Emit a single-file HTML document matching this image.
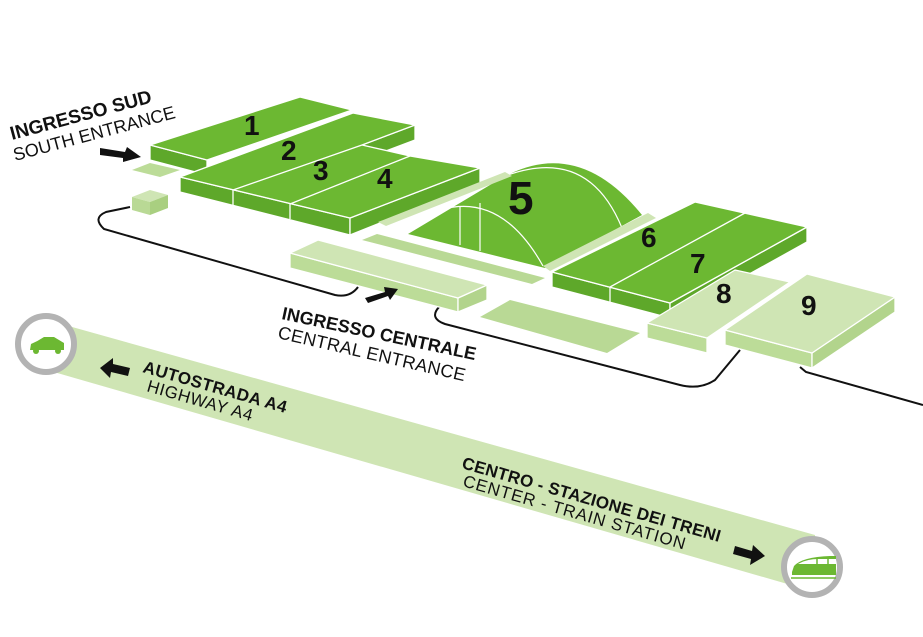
<!DOCTYPE html>
<html><head><meta charset="utf-8"><style>
html,body{margin:0;padding:0;background:#fff;}
svg{display:block;font-family:"Liberation Sans",sans-serif;}
.b{font-weight:bold;}
</style></head><body>
<svg width="923" height="637" viewBox="0 0 923 637" xmlns="http://www.w3.org/2000/svg">
<polygon points="40,318 815,535 815,592 40,368" fill="#cfe5b4"/>
<g fill="none" stroke="#111" stroke-width="2">
<path d="M130,207 L106,212 Q92,218 104,229 L335,295 Q350,298 358,287"/>
<path d="M440,306 Q428,318 445,324 L680,385 Q700,390 715,380 L740,350"/>
<path d="M800,367 L806,372 L923,405"/>
</g>
<polygon points="132,170 150,163 180,170 160,177" fill="#bcdc98"/>
<polygon points="132,197 150,190 168,195 150,202" fill="#cfe5b4"/>
<polygon points="132,197 150,202 150,215 132,210" fill="#b9d995"/>
<polygon points="150,202 168,195 168,208 150,215" fill="#a9cf80"/>
<g stroke="#fff" stroke-width="1.3" stroke-linejoin="round">
<polygon points="150,145 207,160 207,175 150,160" fill="#5ea82a"/>
<polygon points="150,145 300,97 352,110 207,160" fill="#6cb832"/>
<polygon points="415,125 415,140 362,160 362,145" fill="#5ea82a"/>
<polygon points="180,177 350,218 350,235 180,192" fill="#5ea82a"/>
<polygon points="350,218 480,168 480,183 350,235" fill="#5ea82a"/>
<polygon points="180,177 353,113 415,125 362,145 410,156 480,168 350,218" fill="#6cb832"/>
<line x1="233" y1="190" x2="362" y2="145"/>
<line x1="290" y1="204" x2="410" y2="156"/>
<line x1="233" y1="190" x2="233" y2="205"/>
<line x1="290" y1="204" x2="290" y2="219"/>
</g>
<path d="M408,234 L495,182 Q575,132 642,215 L545,268 Z" fill="#6cb832"/>
<g fill="none" stroke="#fff" stroke-width="1.2">
<path d="M420,218 Q495,180 543,266"/>
<path d="M505,176 Q588,145 622,228"/>
<line x1="460" y1="206" x2="460" y2="245"/>
<line x1="480" y1="203" x2="480" y2="251"/>
</g>
<polygon points="378,222 505,172 512,176 386,226" fill="#cfe5b4"/>
<polygon points="543,266 648,213 656,218 550,271" fill="#cfe5b4"/>
<polygon points="362,240 377,234 545,278 532,284" fill="#b9d995"/>
<g stroke="#fff" stroke-width="1.3" stroke-linejoin="round">
<polygon points="290,253 458,298 458,312 290,268" fill="#bcdc98"/>
<polygon points="458,298 487,285 487,300 458,312" fill="#b2d48c"/>
<polygon points="290,253 318,240 487,285 458,298" fill="#cfe5b4"/>
</g>
<polygon points="480,317 510,300 640,333 607,353" fill="#b9d995"/>
<g stroke="#fff" stroke-width="1.3" stroke-linejoin="round">
<polygon points="552,272 670,303 670,318 552,287" fill="#5ea82a"/>
<polygon points="670,303 807,227 807,242 670,318" fill="#5ea82a"/>
<polygon points="552,272 695,202 807,227 670,303" fill="#6cb832"/>
<line x1="610" y1="287" x2="745" y2="213"/>
<line x1="610" y1="287" x2="610" y2="302"/>
<polygon points="647,323 707,338 707,353 647,338" fill="#bcdc98"/>
<polygon points="647,323 735,270 790,282 707,338" fill="#cfe5b4"/>
<polygon points="725,330 812,353 812,368 725,345" fill="#bcdc98"/>
<polygon points="812,353 895,297 895,312 812,368" fill="#b2d48c"/>
<polygon points="725,330 807,274 895,297 812,353" fill="#cfe5b4"/>
</g>
<g class="b" fill="#111" font-size="28">
<text x="244" y="135">1</text>
<text x="281" y="160">2</text>
<text x="313" y="180">3</text>
<text x="377" y="188">4</text>
<text x="508" y="214" font-size="46">5</text>
<text x="641" y="247">6</text>
<text x="690" y="273">7</text>
<text x="716" y="303">8</text>
<text x="801" y="315">9</text>
</g>
<g fill="#111">
<polygon points="100,148 125,152 127,147 141,157 123,162 123,158 100,155"/>
<polygon points="365,298 385,292 384,287 398,289 390,300 388,296 368,303"/>
<polygon points="100,368 113,358 113,364 130,368 128,376 111,372 110,378"/>
<polygon points="735,546 752,551 753,545 765,556 750,565 751,559 733,554"/>
</g>
<g fill="#111">
<text class="b" font-size="19" transform="translate(12,140) rotate(-15)">INGRESSO SUD</text>
<text font-size="18" transform="translate(15,161) rotate(-15)">SOUTH ENTRANCE</text>
<text class="b" font-size="18" transform="translate(281,319) rotate(12)">INGRESSO CENTRALE</text>
<text font-size="18" letter-spacing="0.3" transform="translate(277,338) rotate(13)">CENTRAL ENTRANCE</text>
<text class="b" font-size="17" letter-spacing="0.4" transform="translate(142,372) rotate(16)">AUTOSTRADA A4</text>
<text font-size="17" letter-spacing="0.6" transform="translate(146,391) rotate(16)">HIGHWAY A4</text>
<text class="b" font-size="17" letter-spacing="0.3" transform="translate(461,468) rotate(16)">CENTRO - STAZIONE DEI TRENI</text>
<text font-size="17" letter-spacing="0.9" transform="translate(462,486) rotate(16)">CENTER - TRAIN STATION</text>
</g>
<circle cx="46" cy="344" r="28" fill="#fff" stroke="#b3b3b3" stroke-width="6"/>
<path d="M30,350 L31,344 Q38,341 44,337 L54,337 Q59,340 64,343 L64,350 Z" fill="#6cb832"/>
<circle cx="36" cy="351" r="3" fill="#6cb832"/><circle cx="58" cy="351" r="3" fill="#6cb832"/>
<circle cx="812" cy="567" r="28" fill="#fff" stroke="#b3b3b3" stroke-width="6"/>
<path d="M792,572 L794,566 Q802,557 830,556 L836,556 L836,575 L792,575 Z" fill="#6cb832"/>
<path d="M800,563 Q808,559 818,559 L836,559 L836,564 L798,564 Z" fill="#fff"/>
<line x1="817" y1="558" x2="817" y2="565" stroke="#6cb832" stroke-width="1.5"/>
<line x1="828" y1="558" x2="828" y2="565" stroke="#6cb832" stroke-width="1.5"/>
<line x1="791" y1="578" x2="836" y2="578" stroke="#6cb832" stroke-width="1.5"/>
</svg>
</body></html>
